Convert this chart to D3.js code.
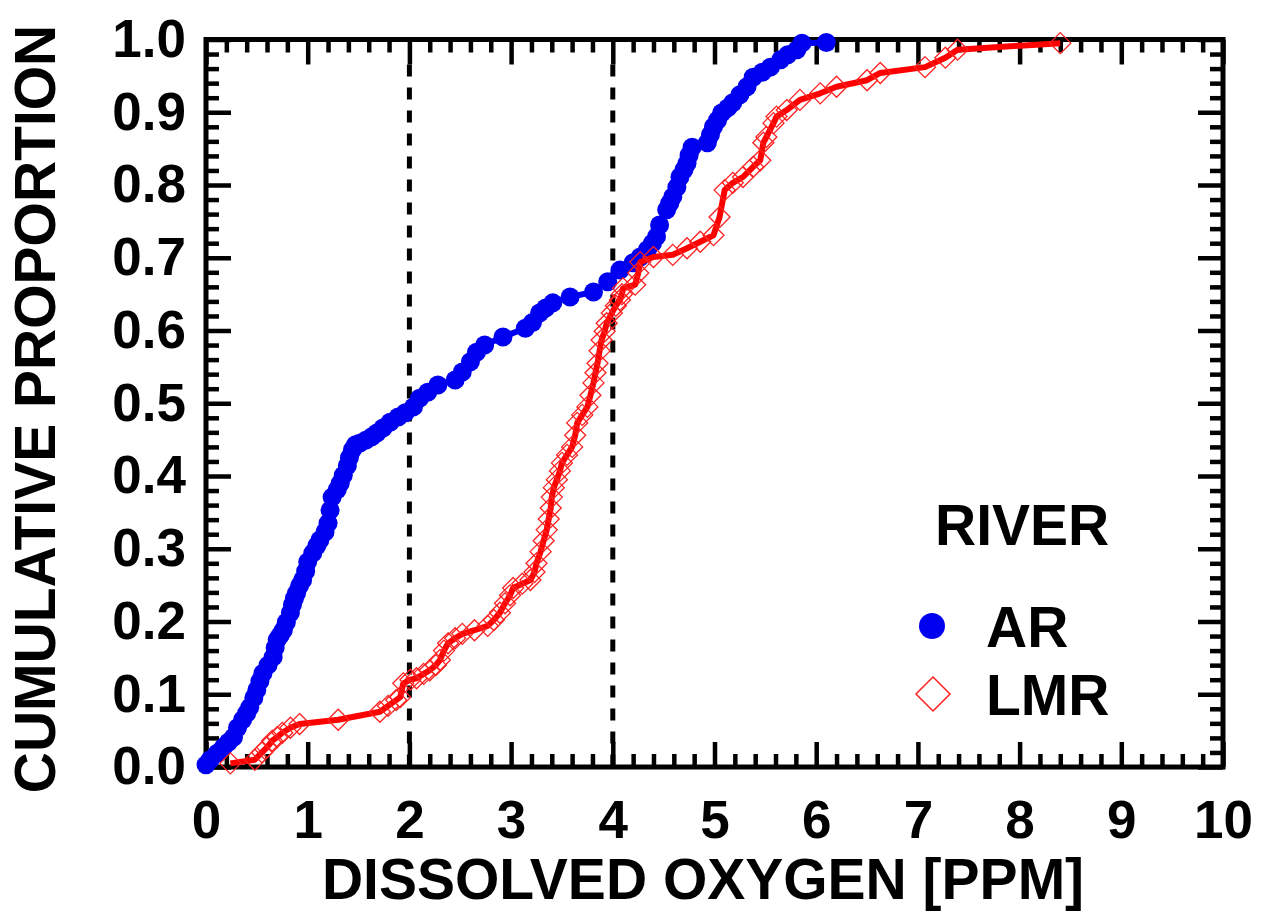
<!DOCTYPE html>
<html>
<head>
<meta charset="utf-8">
<script src="https://cdn.jsdelivr.net/npm/d3@7"></script>
<style>
	html, body { margin: 0; padding: 0; background: #fff; }
	svg text { font-family: "Liberation Sans", Arial, sans-serif; font-weight: bold; fill: #000; }
</style>
</head>
<body>
<svg id="svg"></svg>
<script>
"use strict";

// AR river: dissolved oxygen (ppm) and cumulative proportion
var arDO = [0.00,0.04,0.11,0.17,0.22,0.27,0.31,0.36,0.40,0.43,0.47,0.50,0.53,0.56,0.61,0.66,0.68,0.70,0.73,0.76,
	0.79,0.83,0.85,0.87,0.89,0.92,0.95,0.98,1.00,1.05,1.09,1.12,1.17,1.20,1.22,1.24,1.29,1.32,1.35,1.39,
	1.41,1.44,1.47,1.51,1.57,1.63,1.68,1.74,1.81,1.89,1.96,2.04,2.10,2.18,2.28,2.45,2.52,2.60,2.66,2.74,
	2.92,3.14,3.21,3.28,3.34,3.41,3.58,3.81,3.95,4.07,4.20,4.27,4.34,4.39,4.43,4.46,4.53,4.56,4.59,4.63,
	4.66,4.70,4.73,4.75,4.78,4.93,4.96,4.99,5.03,5.07,5.13,5.18,5.25,5.32,5.38,5.47,5.55,5.65,5.72,5.81,
	5.86,6.10];
var arProp = [0.003,0.010,0.019,0.027,0.034,0.041,0.054,0.065,0.074,0.082,0.095,0.106,0.118,0.129,0.140,0.151,0.164,0.175,0.181,0.188,
	0.199,0.212,0.223,0.232,0.239,0.249,0.257,0.269,0.282,0.294,0.304,0.312,0.323,0.335,0.353,0.371,0.381,0.390,0.401,0.414,
	0.425,0.436,0.443,0.445,0.449,0.454,0.459,0.466,0.474,0.481,0.487,0.495,0.507,0.515,0.525,0.532,0.543,0.557,0.570,0.580,
	0.591,0.603,0.611,0.624,0.631,0.638,0.646,0.653,0.667,0.683,0.693,0.701,0.711,0.720,0.729,0.745,0.766,0.775,0.784,0.797,
	0.811,0.821,0.830,0.841,0.852,0.858,0.869,0.880,0.889,0.899,0.906,0.913,0.924,0.935,0.948,0.955,0.962,0.972,0.979,0.986,
	0.995,0.996];

// LMR river
var lmrDO = [0.24,0.48,0.55,0.60,0.65,0.70,0.75,0.83,0.92,1.30,1.71,1.79,1.87,1.91,1.94,2.01,2.07,2.14,2.20,2.26,
	2.30,2.34,2.38,2.45,2.52,2.64,2.77,2.83,2.89,2.94,2.99,3.02,3.11,3.19,3.23,3.25,3.29,3.32,3.35,3.37,
	3.39,3.40,3.42,3.45,3.48,3.50,3.55,3.60,3.63,3.65,3.70,3.75,3.78,3.81,3.83,3.85,3.87,3.89,3.92,3.94,
	3.99,4.03,4.07,4.09,4.10,4.22,4.25,4.27,4.40,4.59,4.73,4.86,4.99,5.05,5.10,5.18,5.28,5.38,5.45,5.48,
	5.51,5.58,5.61,5.71,5.84,6.04,6.20,6.50,6.63,7.07,7.27,7.39,8.40];
var lmrProp = [0.005,0.010,0.020,0.027,0.036,0.041,0.047,0.054,0.059,0.065,0.076,0.084,0.092,0.096,0.115,0.120,0.122,0.128,0.133,0.140,
	0.147,0.160,0.170,0.177,0.183,0.188,0.194,0.202,0.212,0.225,0.236,0.246,0.252,0.257,0.268,0.280,0.296,0.311,0.326,0.341,
	0.356,0.371,0.384,0.395,0.407,0.418,0.429,0.440,0.456,0.473,0.484,0.495,0.511,0.528,0.542,0.555,0.572,0.587,0.599,0.610,
	0.624,0.634,0.642,0.650,0.658,0.663,0.679,0.694,0.701,0.704,0.713,0.722,0.731,0.756,0.793,0.803,0.811,0.825,0.834,0.858,
	0.866,0.885,0.894,0.903,0.917,0.926,0.935,0.944,0.954,0.962,0.975,0.986,0.995];

var xTicks = [0,1,2,3,4,5,6,7,8,9,10];
var yTicks = [0,0.1,0.2,0.3,0.4,0.5,0.6,0.7,0.8,0.9,1.0];
var refLines = [2,4];
var legendTitle = "RIVER";
var legendLabels = ["AR","LMR"];

var
	width = 1272,
	height = 922,
	pLeft = 206, pRight = 1223, pTop = 39.5, pBottom = 767,

	svg = d3.select("#svg")
		.attr("width", width)
		.attr("height", height),

	x = d3.scaleLinear().domain([0,10]).range([pLeft, pRight]),
	y = d3.scaleLinear().domain([0,1]).range([pBottom, pTop]),

	xMinor = d3.range(0, 10.001, 0.2).filter(function(v){ return Math.abs(v - Math.round(v)) > 1e-6; }),
	yMinor = d3.range(0, 1.0001, 0.02).filter(function(v){ return Math.abs(v*10 - Math.round(v*10)) > 1e-6; });

function styleAxis(g){
	g.select(".domain").remove();
	g.selectAll(".tick line").attr("stroke", "#000").attr("stroke-width", 4.5);
	g.selectAll(".tick text").style("font-size", "53px").attr("fill", "#000");
}

// minor ticks, all four sides
svg.append("g").attr("transform","translate(0,"+pBottom+")")
	.call(d3.axisBottom(x).tickValues(xMinor).tickSize(-13).tickFormat("")).call(styleAxis);
svg.append("g").attr("transform","translate(0,"+pTop+")")
	.call(d3.axisTop(x).tickValues(xMinor).tickSize(-13).tickFormat("")).call(styleAxis);
svg.append("g").attr("transform","translate("+pLeft+",0)")
	.call(d3.axisLeft(y).tickValues(yMinor).tickSize(-13).tickFormat("")).call(styleAxis);
svg.append("g").attr("transform","translate("+pRight+",0)")
	.call(d3.axisRight(y).tickValues(yMinor).tickSize(-13).tickFormat("")).call(styleAxis);

// major ticks
svg.append("g").attr("transform","translate(0,"+pBottom+")")
	.call(d3.axisBottom(x).tickValues(xTicks).tickSize(-25).tickPadding(33).tickFormat(d3.format("d"))).call(styleAxis);
svg.append("g").attr("transform","translate(0,"+pTop+")")
	.call(d3.axisTop(x).tickValues(xTicks).tickSize(-25).tickFormat("")).call(styleAxis);
svg.append("g").attr("transform","translate("+pLeft+",0)")
	.call(d3.axisLeft(y).tickValues(yTicks).tickSize(-25).tickPadding(20).tickFormat(d3.format(".1f"))).call(styleAxis);
svg.append("g").attr("transform","translate("+pRight+",0)")
	.call(d3.axisRight(y).tickValues(yTicks).tickSize(-25).tickFormat("")).call(styleAxis);

// frame
svg.append("rect")
	.attr("x", pLeft).attr("y", pTop)
	.attr("width", pRight-pLeft).attr("height", pBottom-pTop)
	.attr("fill", "none").attr("stroke", "#000").attr("stroke-width", 5);

// dashed reference lines
svg.selectAll("line.ref")
	.data(refLines)
	.enter()
	.append("line")
	.attr("class","ref")
	.attr("x1", function(d){return x(d)}).attr("x2", function(d){return x(d)})
	.attr("y1", y(1) + 25).attr("y2", pBottom)
	.attr("stroke", "#000").attr("stroke-width", 5)
	.attr("stroke-dasharray", "12,11");

var line = d3.line().x(function(d){return x(d[0])}).y(function(d){return y(d[1])});

var ar = d3.zip(arDO, arProp),
	lmr = d3.zip(lmrDO, lmrProp);

// AR
svg.append("path").datum(ar)
	.attr("d", line).attr("fill","none")
	.attr("stroke","#0000f0").attr("stroke-width",6).attr("stroke-linejoin","round");
svg.selectAll("circle.ar")
	.data(ar)
	.enter()
	.append("circle")
	.attr("class","ar")
	.attr("cx", function(d){return x(d[0])})
	.attr("cy", function(d){return y(d[1])})
	.attr("r", 9.5)
	.style("fill", "#0000f0");

// LMR
svg.append("path").datum(lmr)
	.attr("d", line).attr("fill","none")
	.attr("stroke","#ff0000").attr("stroke-width",6).attr("stroke-linejoin","round");
var diamond = function(cx, cy, s){
	return "M"+cx+","+(cy-s)+"L"+(cx+s)+","+cy+"L"+cx+","+(cy+s)+"L"+(cx-s)+","+cy+"Z";
};
svg.selectAll("path.lmr")
	.data(lmr)
	.enter()
	.append("path")
	.attr("class","lmr")
	.attr("d", function(d){return diamond(x(d[0]), y(d[1]), 10.5)})
	.attr("fill","none").attr("stroke","#ff2020").attr("stroke-width",1.3);

// axis titles
svg.append("text")
	.attr("x", 703).attr("y", 899)
	.attr("text-anchor","middle")
	.style("font-size","57px")
	.text("DISSOLVED OXYGEN [PPM]");
svg.append("text")
	.attr("transform","translate(55,409) rotate(-90)")
	.attr("text-anchor","middle")
	.style("font-size","57px")
	.text("CUMULATIVE PROPORTION");

// legend
svg.append("text").attr("x", 935).attr("y", 545).style("font-size","57px").text(legendTitle);
svg.append("circle").attr("cx", 932).attr("cy", 626).attr("r", 13).style("fill","#0000f0");
svg.append("path").attr("d", diamond(933, 694, 17)).attr("fill","none").attr("stroke","#ff2020").attr("stroke-width",1.5);
svg.selectAll("text.leg")
	.data(legendLabels)
	.enter()
	.append("text")
	.attr("class","leg")
	.attr("x", 986)
	.attr("y", function(d,i){return i ? 715 : 647})
	.style("font-size","57px")
	.text(function(d){return d});
</script>
</body>
</html>
